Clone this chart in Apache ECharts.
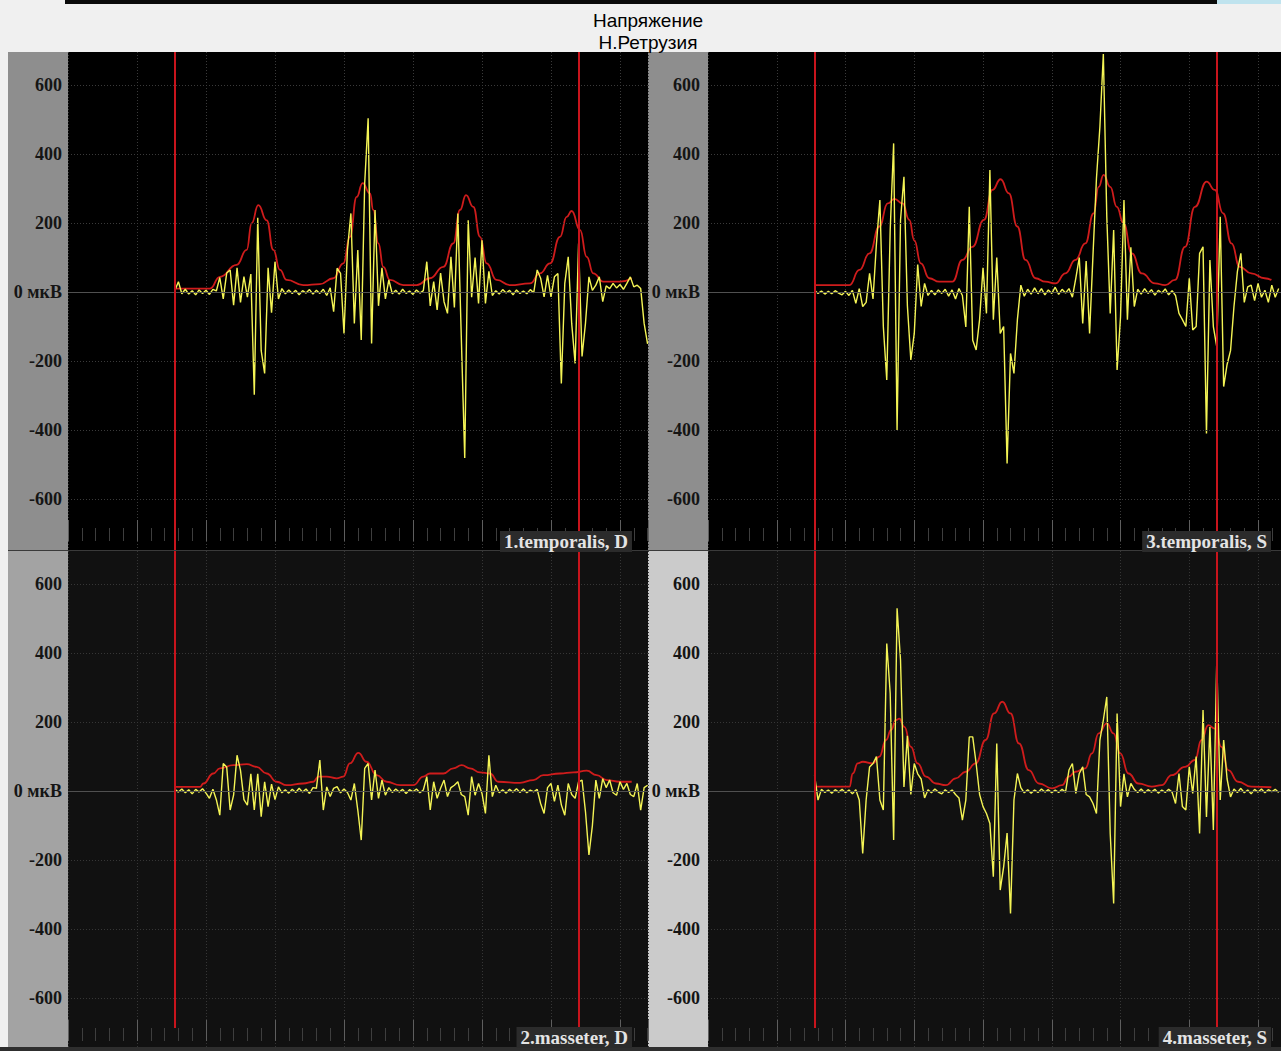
<!DOCTYPE html>
<html><head><meta charset="utf-8">
<script src="https://cdn.jsdelivr.net/npm/echarts@6/dist/echarts.min.js"></script>
<style>html,body{margin:0;padding:0;background:#f0f0f0;overflow:hidden}#c{width:1281px;height:1051px}</style>
</head><body><div id="c"></div>
<script>
// ---------- DATA ----------
const chartTitle = ['Напряжение', 'Н.Ретрузия'];
const panelNames = ['1.temporalis, D', '3.temporalis, S', '2.masseter, D', '4.masseter, S'];
const yTickValues = [-600, -400, -200, 0, 200, 400, 600];
const zeroLabel = '0 мкВ';
const markerTimes = [775, 3700];          // ms, red cursor lines
const sampleStart = 775;                  // ms, first EMG sample
const sampleStep = 25;                    // ms between EMG samples

// raw EMG, µV (1.temporalis, D)
const emgTL = [5,30,-5,8,-6,4,-8,6,-4,5,-7,8,
  3,42,-20,55,64,-38,70,-30,45,-15,52,
  -298,215,-170,-236,70,-60,88,-20,10,
  -5,6,-4,5,-8,4,-3,7,-6,5,-4,8,-10,12,
  -57,69,54,-120,122,228,-91,122,-139,315,504,-149,238,-40,70,-20,35,-5,
  5,-6,8,-4,3,-7,6,-3,4,
  88,-40,30,-52,55,-28,-62,102,-45,228,-130,-481,208,-15,100,-33,150,-33,60,-10,
  4,-6,7,-3,5,-8,6,-4,3,-5,7,-2,
  64,40,-14,48,-14,44,54,-265,25,102,-91,-207,141,-187,-90,
  44,5,20,44,-28,18,10,25,12,22,8,25,44,15,20,10,-91,-150];
// raw EMG, µV (3.temporalis, S)
const emgTR = [5,-4,3,-6,2,-5,4,-3,-8,2,-10,5,-33,10,-42,-30,54,-20,
  141,267,-100,-255,180,431,-400,209,334,-40,-197,-120,80,-42,25,
  -10,5,-8,6,-4,8,-12,6,-20,10,-10,
  -101,247,-140,-168,-80,70,-62,354,-80,100,-120,-100,-497,-178,-236,-80,20,-12,
  8,-6,12,-5,10,-8,6,-4,14,-7,8,-3,10,-15,
  40,100,-91,90,-120,110,330,479,690,220,-62,180,-226,-72,267,-80,130,-42,
  8,-6,10,-4,7,-9,5,-3,9,-8,4,
  -10,-62,-80,-100,40,-110,-100,112,131,-410,93,-100,-159,218,-274,-210,-170,-42,60,112,-30,
  15,20,-25,25,-15,5,-30,20,-15,10];
// raw EMG, µV (2.masseter, D)
const emgBL = [5,-3,6,-5,4,-8,5,-3,7,-6,-21,5,-25,
  -70,80,70,-55,-12,104,60,-25,-41,50,-55,50,-74,27,-45,20,-25,12,
  -5,4,-6,5,-4,8,-3,6,-7,10,8,
  90,-55,12,-16,8,13,-5,6,-4,-26,22,-55,-142,66,80,-26,61,-21,32,-12,10,
  -4,6,-3,5,-7,4,-2,6,-5,3,
  42,-55,27,-21,8,32,-16,10,17,27,-10,-16,-70,42,-12,22,-7,-65,104,-16,17,-5,
  4,-6,5,-3,7,-4,6,-5,3,-2,5,
  -36,-65,10,22,-30,17,-40,-70,22,-10,-21,27,32,-60,-185,-100,32,-21,36,10,32,-5,-12,27,5,22,-10,-16,22,-55,10,17];
// raw EMG, µV (4.masseter, S)
const emgBR = [46,-26,5,-4,3,-6,4,-3,5,-5,3,-8,4,
  -26,-181,-26,70,80,100,-26,-55,428,283,-142,530,380,12,160,-10,80,50,35,-20,
  4,-5,6,-3,-8,4,-4,3,-10,-20,-84,-26,
  157,157,80,-10,-45,-65,-94,-248,138,-287,-220,-122,-355,-26,51,10,-5,
  4,-6,3,-4,6,-3,4,-5,3,-4,5,-3,
  61,80,-7,51,70,-10,-17,-36,-65,148,206,273,-123,-326,225,-45,50,-17,22,
  5,-4,6,-5,4,-3,5,-6,3,-4,5,-3,
  -36,51,-45,-55,70,-7,100,-123,235,-75,186,-113,380,-26,148,35,-17,
  6,-4,8,-5,3,-8,5,-3,6,-5,4,-2,5,-4];

// envelopes (time ms / value µV)
const envTLt = [775,1029,1101,1222,1295,1331,1379,1440,1488,1536,1585,1705,1826,1923,1995,2043,2092,2135,2188,2212,2249,2285,2333,2430,2527,2623,2720,2792,2841,2884,2937,2986,3034,3106,3203,3348,3420,3493,3565,3614,3650,3710,3759,3807,3879,4000,4085];
const envTLv = [10,10,44,79,122,200,252,208,122,64,35,20,23,40,83,160,276,316,286,238,141,73,35,20,20,40,73,141,238,281,247,160,83,35,20,25,54,83,160,218,235,180,102,54,30,30,40];
const envTRt = [775,1029,1101,1174,1246,1307,1355,1415,1464,1500,1548,1609,1681,1778,1850,1923,2007,2068,2128,2188,2249,2309,2382,2454,2527,2599,2672,2744,2804,2841,2877,2925,2973,3022,3082,3155,3251,3324,3396,3469,3541,3626,3686,3746,3807,3867,3951,4048,4097];
const envTRv = [20,20,64,112,190,257,270,257,209,150,83,40,30,30,93,131,209,296,327,286,190,93,40,30,25,54,93,141,228,305,340,305,247,199,112,54,25,20,35,131,247,320,296,228,141,73,54,40,35];
const envBLt = [775,957,981,1053,1101,1198,1295,1367,1440,1512,1585,1705,1778,1814,1874,1947,1995,2043,2104,2164,2237,2309,2406,2502,2575,2623,2720,2792,2853,2913,2986,3058,3118,3275,3372,3444,3565,3662,3759,3831,3903,4000,4085];
const envBLv = [12,12,22,51,66,75,78,70,51,27,17,22,27,42,42,37,42,80,111,85,46,27,17,17,42,51,51,66,75,66,54,51,27,24,32,46,51,54,59,46,32,27,27];
const envBRt = [775,1029,1053,1089,1126,1198,1246,1295,1331,1367,1391,1428,1476,1524,1585,1657,1730,1802,1874,1947,2019,2080,2140,2200,2261,2333,2406,2502,2575,2623,2672,2744,2792,2841,2901,2949,2998,3058,3130,3227,3299,3372,3469,3541,3589,3638,3686,3734,3783,3855,3951,4097];
const envBRv = [13,13,51,80,85,80,100,148,177,206,210,186,128,80,42,22,17,37,56,80,148,225,259,225,138,61,22,8,17,42,56,66,109,167,196,167,109,51,22,13,17,46,70,90,148,191,181,128,61,27,13,11];

// ---------- LAYOUT / STYLE ----------
const layout = [
  {left:68,  top:52,  width:580, height:498, bg:'#000000', strip:'#8e8e8e', xMax:4203, yMin:-748, yMax:696, tickOffset:-9, markerEnd:null, margin:6, nameRight:649, nameTop:531, grid:'#3a3a3a'},
  {left:708, top:52,  width:575, height:498, bg:'#000000', strip:'#8e8e8e', xMax:4167, yMin:-748, yMax:696, tickOffset:-9, markerEnd:null, margin:8, nameRight:10,  nameTop:531, grid:'#3a3a3a'},
  {left:68,  top:551, width:580, height:496, bg:'#111111', strip:'#a3a3a3', xMax:4203, yMin:-742, yMax:696, tickOffset:-6, markerEnd:-687, margin:6, nameRight:649, nameTop:1027, grid:'#363636'},
  {left:708, top:551, width:575, height:496, bg:'#111111', strip:'#cbcbcb', xMax:4167, yMin:-742, yMax:696, tickOffset:-6, markerEnd:-687, margin:8, nameRight:10,  nameTop:1027, grid:'#363636'}
];
const panelData = [
  {emg: emgTL, envT: envTLt, envV: envTLv},
  {emg: emgTR, envT: envTRt, envV: envTRv},
  {emg: emgBL, envT: envBLt, envV: envBLv},
  {emg: emgBR, envT: envBRt, envV: envBRv}
];

const serifBold = '"Liberation Serif", "DejaVu Serif", serif';
const grids = [], xAxes = [], yAxes = [], series = [], titles = [], graphics = [];

layout.forEach((L, k) => {
  const D = panelData[k];
  // solid panel backdrop (covers any sub-pixel gap at the canvas edge)
  graphics.push({type:'rect', z:-6, shape:{x:L.left, y:L.top, width:L.width + 2, height:L.height}, style:{fill:L.bg}});
  grids.push({left:L.left, top:L.top, width:L.width, height:L.height, show:true, backgroundColor:L.bg, borderWidth:0, containLabel:false});
  xAxes.push({
    type:'value', gridIndex:k, min:0, max:L.xMax, interval:500, offset:L.tickOffset, position:'bottom',
    axisLine:{show:false, onZero:false}, axisLabel:{show:false},
    axisTick:{show:true, inside:true, length:21, lineStyle:{color:'#5e5e5e', width:1}},
    minorTick:{show:true, splitNumber:5, length:13, lineStyle:{color:'#3e3e3e', width:1}},
    splitLine:{show:true, lineStyle:{color:L.grid, type:[1,2], width:1}},
    minorSplitLine:{show:false}
  });
  yAxes.push({
    type:'value', gridIndex:k, min:L.yMin, max:L.yMax,
    axisLine:{show:false}, axisTick:{show:false}, splitLine:{show:false},
    axisLabel:{
      customValues: yTickValues, margin:L.margin,
      formatter: v => v === 0 ? zeroLabel : String(v),
      color:'#151515', fontFamily:serifBold, fontWeight:'bold', fontSize:18
    }
  });
  const hLines = yTickValues.filter(v => v !== 0).map(v => ({yAxis:v, lineStyle:{color:L.grid, type:[1,2], width:1}}));
  hLines.push({yAxis:0, lineStyle:{color:'#505050', type:'solid', width:1}});
  series.push({
    type:'line', xAxisIndex:k, yAxisIndex:k, data:[[0,0]], showSymbol:false, lineStyle:{width:0}, z:1, silent:true,
    markLine:{silent:true, symbol:'none', label:{show:false}, animation:false, data:hLines}
  });
  series.push({
    type:'line', xAxisIndex:k, yAxisIndex:k, showSymbol:false, smooth:0.5, smoothMonotone:'x', z:2,
    lineStyle:{color:'#cf1c1c', width:1.8},
    data: D.envT.map((t, i) => [t, D.envV[i]])
  });
  series.push({
    type:'line', xAxisIndex:k, yAxisIndex:k, showSymbol:false, z:3,
    lineStyle:{color:'#f4f455', width:1.4},
    data: D.emg.map((v, i) => [sampleStart + i * sampleStep, v])
  });
  const mk = markerTimes.map(t => L.markerEnd === null
    ? {xAxis:t}
    : [{coord:[t, L.yMax]}, {coord:[t, L.markerEnd]}]);
  series.push({
    type:'line', xAxisIndex:k, yAxisIndex:k, data:[[0,0]], showSymbol:false, lineStyle:{width:0}, z:4, silent:true,
    markLine:{silent:true, symbol:'none', label:{show:false}, animation:false,
      lineStyle:{color:'#c8141c', width:2, type:'solid'}, data:mk}
  });
  titles.push({
    text: panelNames[k], right:L.nameRight, top:L.nameTop,
    backgroundColor:'#2b2b2b', padding:[1,4,1,4],
    textStyle:{color:'#e4e4e4', fontFamily:serifBold, fontWeight:'bold', fontSize:19, lineHeight:19}
  });
  graphics.push({type:'rect', z:-5, shape:{x:L.left - 60, y:L.top, width:60, height:L.height}, style:{fill:L.strip}});
});

graphics.push({type:'rect', z:-4, shape:{x:8, y:550, width:1275, height:1}, style:{fill:'#3a3a3a'}});
graphics.push({type:'rect', z:-4, shape:{x:0, y:1047, width:1283, height:4}, style:{fill:'#2e2e2e'}});
graphics.push({type:'rect', z:-4, shape:{x:65, y:0, width:1152, height:4}, style:{fill:'#0a0a0a'}});
graphics.push({type:'rect', z:-4, shape:{x:1217, y:0, width:66, height:4}, style:{fill:'#bfe3ee'}});
graphics.push({type:'text', z:10, x:648, y:9, style:{text: chartTitle.join('\n'), textAlign:'center', fill:'#000',
  fontFamily:'"Liberation Sans", Arial, sans-serif', fontSize:19, lineHeight:22}});

const chart = echarts.init(document.getElementById('c'), null, {renderer:'svg', width:1281, height:1051});
chart.setOption({
  animation:false,
  backgroundColor:'#f0f0f0',
  title: titles,
  grid: grids,
  xAxis: xAxes,
  yAxis: yAxes,
  series: series,
  graphic: graphics
});
</script></body></html>
